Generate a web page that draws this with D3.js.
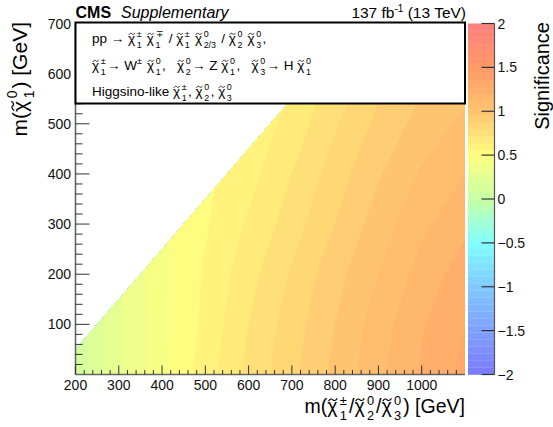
<!DOCTYPE html>
<html>
<head>
<meta charset="utf-8">
<script src="https://cdn.jsdelivr.net/npm/d3@7"></script>
<style>
  html, body { margin: 0; padding: 0; background: #fff; }
  svg { display: block; font-family: "Liberation Sans", Arial, Helvetica, sans-serif; }
  text { white-space: pre; }
</style>
</head>
<body>
<svg id="chart" width="553" height="427"></svg>
<script>
// Grid of expected significance: columns are m(chargino/neutralino), rows are m(LSP)
const massX = [200, 300, 400, 500, 600, 700, 800, 900, 1000, 1100];
const massY = [0, 100, 200, 300, 400, 500, 600, 700];
const significance = [
  [0.10, 0.30, 0.45, 0.60, 0.74, 0.86, 0.98, 1.10, 1.21, 1.30],
  [0.12, 0.30, 0.45, 0.58, 0.72, 0.84, 0.96, 1.08, 1.19, 1.28],
  [0.14, 0.31, 0.45, 0.57, 0.69, 0.81, 0.93, 1.04, 1.15, 1.24],
  [0.16, 0.33, 0.46, 0.55, 0.65, 0.76, 0.88, 1.00, 1.10, 1.18],
  [0.18, 0.35, 0.47, 0.54, 0.61, 0.72, 0.84, 0.95, 1.05, 1.12],
  [0.20, 0.37, 0.48, 0.53, 0.58, 0.67, 0.79, 0.90, 0.99, 1.06],
  [0.22, 0.39, 0.49, 0.53, 0.57, 0.63, 0.74, 0.85, 0.94, 1.00],
  [0.24, 0.40, 0.50, 0.53, 0.56, 0.61, 0.71, 0.81, 0.90, 0.96]
];
// Scanned region: m(LSP) <= m(NLSP) - diagonalOffset
const diagonalOffset = 150;
const xTicks = [200, 300, 400, 500, 600, 700, 800, 900, 1000];
const yTicks = [100, 200, 300, 400, 500, 600, 700];
const zTicks = [-2, -1.5, -1, -0.5, 0, 0.5, 1, 1.5, 2];
const paletteStops = [-2, -1.5, -1, -0.5, 0, 0.5, 1, 1.5, 2];
const paletteColors = ["#7b7bff", "#80a0ff", "#80c8ff", "#80ffff", "#c8ffa6", "#ffff80", "#ffc470", "#ff9966", "#ff7f7f"];

const svg = d3.select("#chart");
const plot = { left: 75.5, right: 465, top: 23.5, bottom: 374.5 };
const bar = { left: 468, right: 494.5 };

const x = d3.scaleLinear().domain([200, 1100]).range([plot.left, plot.right]);
const y = d3.scaleLinear().domain([0, 700]).range([plot.bottom, plot.top]);
const z = d3.scaleLinear().domain([-2, 2]).range([plot.bottom, plot.top]);
const color = d3.scaleLinear().domain(paletteStops).range(paletteColors).interpolate(d3.interpolateRgb);

const nLevels = 50;
const zStep = 4 / nLevels;
const thresholds = d3.range(nLevels).map(i => -2 + i * zStep);

// ---- filled contours ----
const nx = massX.length, ny = massY.length;
const dxGrid = massX[1] - massX[0], dyGrid = massY[1] - massY[0];
const flat = [];
for (let j = 0; j < ny; j++) for (let i = 0; i < nx; i++) flat.push(significance[j][i]);

const contours = d3.contours().size([nx, ny]).thresholds(thresholds)(flat);
const proj = d3.geoTransform({
  point(px, py) {
    this.stream.point(x(massX[0] + (px - 0.5) * dxGrid), y(massY[0] + (py - 0.5) * dyGrid));
  }
});
const path = d3.geoPath(proj);

const defs = svg.append("defs");
const clipPts = [[200, 0], [1100, 0], [1100, 700], [700 + diagonalOffset, 700], [200, 200 - diagonalOffset]];
defs.append("clipPath").attr("id", "scan")
  .append("polygon")
  .attr("points", clipPts.map(p => [x(p[0]), y(p[1])].join(",")).join(" "));

svg.append("g").attr("clip-path", "url(#scan)")
  .selectAll("path").data(contours).join("path")
  .attr("d", path)
  .attr("fill", d => color(d.value + zStep / 2))
  .attr("stroke", d => color(d.value + zStep / 2))
  .attr("stroke-width", 0.6);

// ---- colour bar ----
svg.append("g").selectAll("rect").data(thresholds).join("rect")
  .attr("x", bar.left).attr("width", bar.right - bar.left)
  .attr("y", d => z(d + zStep)).attr("height", d => z(d) - z(d + zStep) + 0.3)
  .attr("fill", d => color(d + zStep / 2));

const zAxis = svg.append("g");
zAxis.append("line").attr("x1", bar.right).attr("x2", bar.right)
  .attr("y1", z(-2)).attr("y2", z(2)).attr("stroke", "#555").attr("stroke-width", 1.2);
zAxis.selectAll(".zt").data(zTicks).join("line")
  .attr("x1", bar.right - 13).attr("x2", bar.right)
  .attr("y1", d => z(d)).attr("y2", d => z(d)).attr("stroke", "#333").attr("stroke-width", 1.2);
zAxis.selectAll(".zl").data(zTicks).join("text")
  .attr("x", 497.5).attr("y", d => z(d) + 5)
  .attr("font-size", 14).attr("fill", "#111")
  .text(d => (d < 0 ? "\u2212" : "") + Math.abs(d));

// ---- axes ----
const axisColor = "#666";
const ax = svg.append("g");
ax.append("line").attr("x1", plot.left).attr("x2", plot.right)
  .attr("y1", plot.bottom).attr("y2", plot.bottom).attr("stroke", axisColor).attr("stroke-width", 1.6);
ax.append("line").attr("x1", plot.left).attr("x2", plot.left)
  .attr("y1", plot.bottom).attr("y2", plot.top).attr("stroke", axisColor).attr("stroke-width", 1.6);

const xMinor = d3.range(200, 1100.1, 20).filter(v => v % 100 !== 0);
ax.selectAll(".xmaj").data(xTicks).join("line")
  .attr("x1", d => x(d)).attr("x2", d => x(d))
  .attr("y1", plot.bottom).attr("y2", plot.bottom - 9).attr("stroke", "#333").attr("stroke-width", 1);
ax.selectAll(".xmin").data(xMinor).join("line")
  .attr("x1", d => x(d)).attr("x2", d => x(d))
  .attr("y1", plot.bottom).attr("y2", plot.bottom - 4.5).attr("stroke", "#333").attr("stroke-width", 1);
ax.selectAll(".xl").data(xTicks).join("text")
  .attr("x", d => x(d)).attr("y", 390)
  .attr("text-anchor", "middle").attr("font-size", 14).attr("fill", "#111")
  .text(d => d);

const yMinor = d3.range(0, 700.1, 20).filter(v => v % 100 !== 0);
ax.selectAll(".ymaj").data(yTicks).join("line")
  .attr("x1", plot.left).attr("x2", plot.left + 14)
  .attr("y1", d => y(d)).attr("y2", d => y(d)).attr("stroke", "#333").attr("stroke-width", 1);
ax.selectAll(".ymin").data(yMinor).join("line")
  .attr("x1", plot.left).attr("x2", plot.left + 7)
  .attr("y1", d => y(d)).attr("y2", d => y(d)).attr("stroke", "#333").attr("stroke-width", 1);
ax.selectAll(".yl").data(yTicks).join("text")
  .attr("x", 71).attr("y", d => y(d) + 5)
  .attr("text-anchor", "end").attr("font-size", 14).attr("fill", "#111")
  .text(d => d);

// ---- rich text helper: one <text> per line; chi drawn with a tilde accent and stacked super/subscripts ----
const CHI = "chi";
function rich(g, x0, y0, parts, fs, supRaise) {
  const raise = supRaise === undefined ? 0.48 : supRaise;
  const t = g.append("text").attr("fill", "#000").attr("font-size", fs);
  let cx = x0;
  const span = (str, xx, yy, size) => {
    const s = t.append("tspan").attr("x", xx).attr("y", yy).attr("font-size", size).text(str);
    return s.node().getComputedTextLength();
  };
  parts.forEach(p => {
    if (typeof p === "string") {
      cx += span(p, cx, y0, fs);
    } else {
      if (p.b === CHI) {
        const w = span("\u03C7", cx, y0, fs);
        // tilde accent over the chi
        const tx = cx + w * 0.12, tw = w * 0.85, ty = y0 - fs * 0.68, h = fs * 0.07;
        g.append("path")
          .attr("d", `M${tx},${ty + h} C${tx + tw * 0.25},${ty - h * 1.6} ${tx + tw * 0.5},${ty - h * 0.2} ${tx + tw * 0.5},${ty} S${tx + tw * 0.75},${ty + h * 1.6} ${tx + tw},${ty - h}`)
          .attr("fill", "none").attr("stroke", "#000").attr("stroke-width", Math.max(0.8, fs * 0.06));
        cx += w + fs * 0.12;
      } else if (p.b) {
        cx += span(p.b, cx, y0, fs) + fs * 0.05;
      }
      let w = 0;
      if (p.sup) w = Math.max(w, span(p.sup, cx, y0 - fs * raise, fs * 0.66));
      if (p.sub) w = Math.max(w, span(p.sub, cx, y0 + fs * 0.34, fs * 0.66));
      cx += w + fs * 0.1;
    }
  });
  return { node: t, width: cx - x0 };
}

// ---- legend box ----
svg.append("rect").attr("x", plot.left).attr("y", 22.5)
  .attr("width", plot.right - plot.left).attr("height", 81)
  .attr("fill", "#fff").attr("stroke", "#000").attr("stroke-width", 2);
const lg = svg.append("g");
const lfs = 13.5, lx = 92;
rich(lg, lx, 43, ["pp \u2192 ", { b: CHI, sup: "\u00B1", sub: "1" }, " ", { b: CHI, sup: "\u2213", sub: "1" }, " / ",
  { b: CHI, sup: "\u00B1", sub: "1" }, " ", { b: CHI, sup: "0", sub: "2/3" }, " / ",
  { b: CHI, sup: "0", sub: "2" }, " ", { b: CHI, sup: "0", sub: "3" }, ","], lfs);
rich(lg, lx, 70, [{ b: CHI, sup: "\u00B1", sub: "1" }, "\u2192 W", { sup: "\u00B1" }, " ", { b: CHI, sup: "0", sub: "1" }, ",   ",
  { b: CHI, sup: "0", sub: "2" }, "\u2192 Z ", { b: CHI, sup: "0", sub: "1" }, ",   ",
  { b: CHI, sup: "0", sub: "3" }, "\u2192 H ", { b: CHI, sup: "0", sub: "1" }], lfs);
rich(lg, lx, 96, ["Higgsino-like ", { b: CHI, sup: "\u00B1", sub: "1" }, ", ", { b: CHI, sup: "0", sub: "2" }, ", ",
  { b: CHI, sup: "0", sub: "3" }], lfs);

// ---- header ----
svg.append("text").attr("x", 75.5).attr("y", 18).attr("font-size", 16).attr("font-weight", "bold").text("CMS");
svg.append("text").attr("x", 121).attr("y", 18).attr("font-size", 16).attr("font-style", "italic").text("Supplementary");
const lumi = svg.append("text").attr("x", 466).attr("y", 18).attr("font-size", 15.5).attr("text-anchor", "end");
lumi.append("tspan").text("137 fb");
lumi.append("tspan").attr("dy", -6).attr("font-size", 10).text("-1");
lumi.append("tspan").attr("dy", 6).text(" (13 TeV)");

// ---- axis titles ----
const xt = svg.append("g");
const xtr = rich(xt, 0, 413, ["m(", { b: CHI, sup: "\u00B1", sub: "1" }, "/", { b: CHI, sup: "0", sub: "2" }, "/",
  { b: CHI, sup: "0", sub: "3" }, ") [GeV]"], 19.5, 0.42);
xt.attr("transform", `translate(${plot.right - xtr.width},0)`);

const ytOuter = svg.append("g").attr("transform", "translate(27,0) rotate(-90)");
const yti = ytOuter.append("g");
const ytr = rich(yti, 0, 0, ["m(", { b: CHI, sup: "0", sub: "1" }, ") [GeV]"], 21);
yti.attr("transform", `translate(${-ytr.width - 22},0)`);

svg.append("text").attr("transform", "translate(549,22) rotate(-90)")
  .attr("text-anchor", "end").attr("font-size", 20).text("Significance");
</script>
</body>
</html>
